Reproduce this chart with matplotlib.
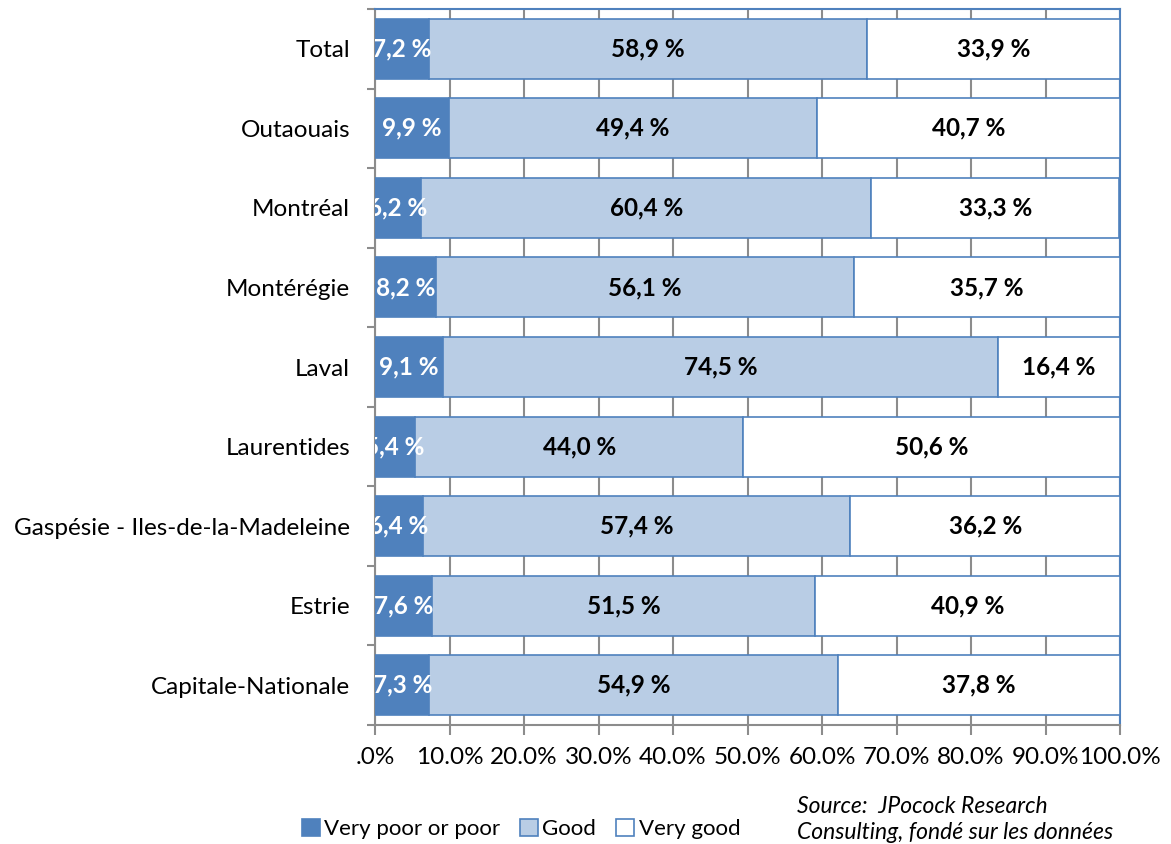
import matplotlib.pyplot as plt
import numpy as np

plt.rcParams['font.family'] = ['Lato', 'DejaVu Sans']

regions = ['Capitale-Nationale', 'Estrie', 'Gaspésie - Iles-de-la-Madeleine',
           'Laurentides', 'Laval', 'Montérégie', 'Montréal', 'Outaouais', 'Total']
poor = [7.3, 7.6, 6.4, 5.4, 9.1, 8.2, 6.2, 9.9, 7.2]
good = [54.9, 51.5, 57.4, 44.0, 74.5, 56.1, 60.4, 49.4, 58.9]
very_good = [37.8, 40.9, 36.2, 50.6, 16.4, 35.7, 33.3, 40.7, 33.9]
series_names = ['Very poor or poor', 'Good', 'Very good']
x_ticks = [0, 10, 20, 30, 40, 50, 60, 70, 80, 90, 100]
x_ticklabels = ['.0%', '10.0%', '20.0%', '30.0%', '40.0%', '50.0%',
                '60.0%', '70.0%', '80.0%', '90.0%', '100.0%']

c_dark = '#4F81BD'
c_light = '#B9CDE5'
c_grid = '#8C8C8C'

fig = plt.figure(figsize=(11.71, 8.44), dpi=100)
ax = fig.add_axes([375 / 1171, 1 - 725 / 844, 745 / 1171, 716 / 844])

y = np.arange(len(regions))
h = 0.755
poor = np.array(poor)
good = np.array(good)
very_good = np.array(very_good)

b1 = ax.barh(y, poor, h, color=c_dark, edgecolor=c_dark, linewidth=1.2,
             label=series_names[0], zorder=3)
b2 = ax.barh(y, good, h, left=poor, color=c_light, edgecolor=c_dark,
             linewidth=1.2, label=series_names[1], zorder=3)
b3 = ax.barh(y, very_good, h, left=poor + good, color='white', edgecolor=c_dark,
             linewidth=1.2, label=series_names[2], zorder=3)

def fmt(v):
    return f'{v:.1f} %'.replace('.', ',')

fs = 17.5
for i in range(len(regions)):
    ax.text(poor[i] / 2, y[i], fmt(poor[i]), ha='center', va='center',
            color='white', fontsize=fs, fontweight='bold', zorder=5,
            clip_on=True)
    ax.text(poor[i] + good[i] / 2, y[i], fmt(good[i]), ha='center', va='center',
            color='black', fontsize=fs, fontweight='bold', zorder=5)
    ax.text(poor[i] + good[i] + very_good[i] / 2, y[i], fmt(very_good[i]),
            ha='center', va='center', color='black', fontsize=fs,
            fontweight='bold', zorder=5)

ax.set_xlim(0, 100)
ax.set_ylim(-0.5, 8.5)
ax.set_xticks(x_ticks)
ax.set_xticklabels(x_ticklabels, fontsize=fs)
ax.set_yticks(y)
ax.set_yticklabels(regions, fontsize=fs)
ax.set_yticks(np.arange(-0.5, 9, 1), minor=True)
ax.tick_params(axis='y', which='major', length=0, pad=18)
ax.tick_params(axis='y', which='minor', length=6, width=1.5, color=c_grid)
ax.tick_params(axis='x', length=7, width=1.5, color=c_grid, pad=9)

ax.grid(axis='x', color=c_grid, linewidth=1.5, zorder=0)
ax.set_axisbelow(True)
ax.spines['left'].set_color(c_grid)
ax.spines['bottom'].set_color(c_grid)
ax.spines['left'].set_linewidth(1.5)
ax.spines['bottom'].set_linewidth(1.5)
ax.spines['top'].set_color(c_dark)
ax.spines['right'].set_color(c_dark)
ax.spines['top'].set_linewidth(1.5)
ax.spines['right'].set_linewidth(1.5)

fig.legend(handles=[b1, b2, b3], loc='center', bbox_to_anchor=(521 / 1171, 1 - 829 / 844),
           ncol=3, frameon=False, fontsize=16, handlelength=0.8, handleheight=0.8,
           handletextpad=0.2, columnspacing=0.9, borderpad=0)

fig.text(797 / 1171, 1 - 796 / 844, 'Source:  JPocock Research\nConsulting, fondé sur les données',
         ha='left', va='top', fontsize=16.5, style='italic', linespacing=1.3)

fig.savefig('out.png', dpi=100)
